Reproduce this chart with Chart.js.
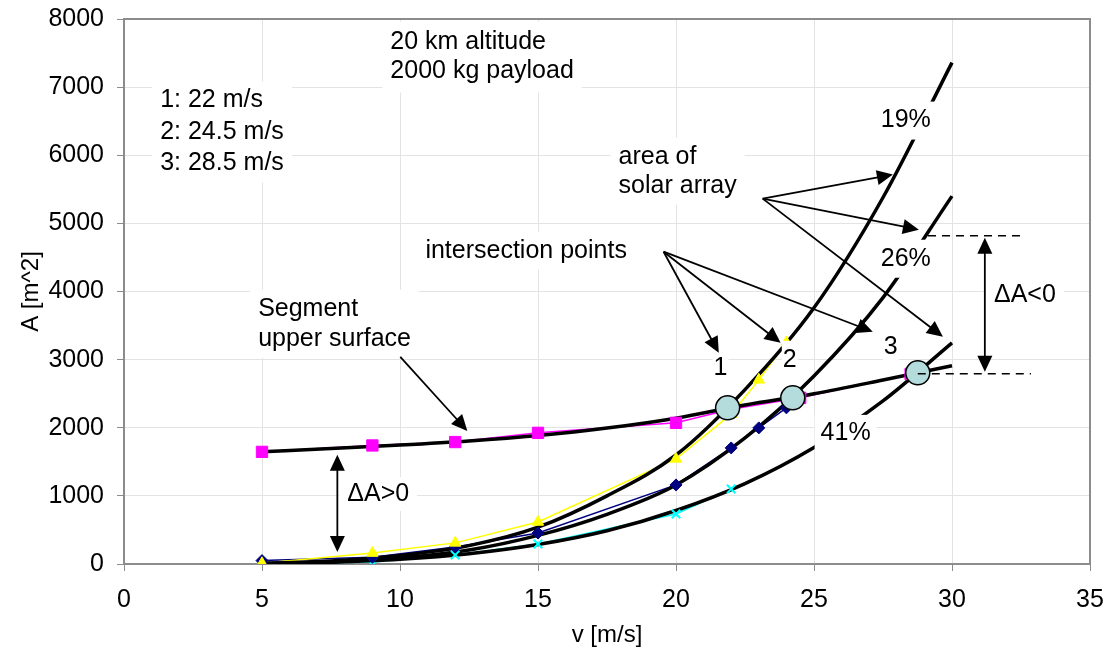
<!DOCTYPE html>
<html>
<head>
<meta charset="utf-8">
<title>A vs v</title>
<script src="https://cdn.jsdelivr.net/npm/chart.js@4.4.1/dist/chart.umd.min.js"></script>
<style>
  body { margin: 0; background: #fff; }
  #wrap { width: 1109px; height: 650px; }
</style>
</head>
<body>
<div id="wrap"><canvas id="myChart" width="1109" height="650"></canvas></div>
<script>
// smoothed curves, sampled every 2.5 m/s
var vFit = [5, 7.5, 10, 12.5, 15, 17.5, 20, 22.5, 25, 27.5, 30];
var segFit = [1646, 1695, 1745, 1805, 1885, 1995, 2140, 2335, 2500, 2700, 2910];
var fit19 = [10, 44, 125, 270, 540, 1000, 1600, 2560, 3760, 5380, 7360];
var fit26 = [7, 30, 90, 205, 420, 730, 1160, 1850, 2760, 3910, 5400];
var fit41 = [6, 25, 68, 150, 285, 487, 785, 1180, 1710, 2395, 3247];

// computed points
var vSeg = [5, 9, 12, 15, 20, 22, 24.5, 28.5];
var segA = [1646, 1740, 1790, 1925, 2072, 2270, 2440, 2790];
var v19 = [5, 9, 12, 15, 20, 22, 23, 24];
var a19 = [10, 160, 310, 617, 1543, 2200, 2703, 3250];
var v26 = [5, 9, 12, 15, 20, 22, 23, 24];
var a26 = [50, 100, 250, 455, 1161, 1704, 1998, 2292];
var v41 = [5, 9, 12, 15, 20, 22];
var a41 = [0, 30, 132, 294, 735, 1102];

// intersection points
var vCross = [21.87, 24.23, 28.76];
var aCross = [2292, 2439, 2806];

// text boxes (left edge in v, first line centre in A)
var noteLines = [
  ["20 km altitude", "2000 kg payload"],
  ["1: 22 m/s", "2: 24.5 m/s", "3: 28.5 m/s"],
  ["area of", "solar array"],
  ["intersection points"],
  ["Segment", "upper surface"],
  ["19%"], ["26%"], ["41%"],
  ["\u0394A<0"], ["\u0394A>0"],
  ["1"], ["2"], ["3"]
];
var noteV = [9.65, 1.31, 17.92, 10.92, 4.86, 27.42, 27.42, 25.24, 31.52, 8.09, 21.36, 23.87, 27.53];
var noteA = [7655, 6803, 5980, 4600, 3747, 6509, 4481, 1925, 3952, 1029, 2880, 2997, 3188];
var noteGap = [29, 31.5, 29, 0, 30, 0, 0, 0, 0, 0, 0, 0, 0];
var notePadX = [8, 8, 8, 8, 8, 6, 6, 6, 8, 8, 1, 1, 1];
var notePadY = [6, 4, 4, 4, 4, 4, 4, 3, 2, 2, 2, 4, 2];

// pointer arrows
var arrowV0 = [10.01, 19.55, 19.55, 19.55, 23.14, 23.14, 23.14];
var arrowA0 = [3041, 4584, 4584, 4584, 5363, 5363, 5363];
var arrowV1 = [12.44, 21.55, 23.79, 27.13, 27.86, 28.80, 29.67];
var arrowA1 = [1954, 3100, 3247, 3409, 5716, 4907, 3335];

// delta A double arrows and dashed guides
var spanV = [31.19, 7.73];
var spanTop = [4790, 1602];
var spanBottom = [2821, 176];
var guideA = [4819, 2792];
var guideV0 = [29.13, 28.76];
var guideV1 = [32.68, 32.86];

var FONT = '"Liberation Sans", Arial, sans-serif';

function toPts(xs, ys) {
  return xs.map(function(x, i) { return { x: x, y: ys[i] }; });
}

function drawArrowHead(ctx, x0, y0, x1, y1) {
  var ang = Math.atan2(y1 - y0, x1 - x0);
  var len = 16, half = 7.5;
  ctx.beginPath();
  ctx.moveTo(x1, y1);
  ctx.lineTo(x1 - len * Math.cos(ang) + half * Math.sin(ang), y1 - len * Math.sin(ang) - half * Math.cos(ang));
  ctx.lineTo(x1 - len * Math.cos(ang) - half * Math.sin(ang), y1 - len * Math.sin(ang) + half * Math.cos(ang));
  ctx.closePath();
  ctx.fill();
}

function drawArrow(ctx, x0, y0, x1, y1, both) {
  var ang = Math.atan2(y1 - y0, x1 - x0);
  var sx = both ? x0 + 14 * Math.cos(ang) : x0;
  var sy = both ? y0 + 14 * Math.sin(ang) : y0;
  ctx.beginPath();
  ctx.moveTo(sx, sy);
  ctx.lineTo(x1 - 14 * Math.cos(ang), y1 - 14 * Math.sin(ang));
  ctx.stroke();
  drawArrowHead(ctx, x0, y0, x1, y1);
  if (both) drawArrowHead(ctx, x1, y1, x0, y0);
}

var notesPlugin = {
  id: "notes",
  beforeDatasetsDraw: function(chart) {
    var ctx = chart.ctx, a = chart.chartArea;
    ctx.save();
    ctx.strokeStyle = "#8c8c8c";
    ctx.lineWidth = 2;
    ctx.strokeRect(a.left, a.top, a.right - a.left, a.bottom - a.top);
    ctx.restore();
  },
  afterDatasetsDraw: function(chart) {
    var ctx = chart.ctx;
    var xs = chart.scales.x, ys = chart.scales.y;
    ctx.save();
    ctx.font = "25px " + FONT;
    ctx.textBaseline = "middle";
    ctx.textAlign = "left";

    // white text boxes with their text
    noteLines.forEach(function(lines, i) {
      var left = xs.getPixelForValue(noteV[i]);
      var top = ys.getPixelForValue(noteA[i]);
      var w = 0;
      lines.forEach(function(l) { w = Math.max(w, ctx.measureText(l).width); });
      var h = (lines.length - 1) * noteGap[i];
      ctx.fillStyle = "#fff";
      ctx.fillRect(left - notePadX[i], top - 15 - notePadY[i], w + 2 * notePadX[i], h + 30 + 2 * notePadY[i]);
      ctx.fillStyle = "#000";
      lines.forEach(function(l, k) { ctx.fillText(l, left, top + k * noteGap[i]); });
    });

    ctx.strokeStyle = "#000";
    ctx.fillStyle = "#000";
    ctx.lineWidth = 1.8;
    for (var i = 0; i < arrowV0.length; i++) {
      drawArrow(ctx,
        xs.getPixelForValue(arrowV0[i]), ys.getPixelForValue(arrowA0[i]),
        xs.getPixelForValue(arrowV1[i]), ys.getPixelForValue(arrowA1[i]), false);
    }
    for (var j = 0; j < spanV.length; j++) {
      var px = xs.getPixelForValue(spanV[j]);
      drawArrow(ctx, px, ys.getPixelForValue(spanTop[j]), px, ys.getPixelForValue(spanBottom[j]), true);
    }

    // dashed guides for delta A < 0
    ctx.lineWidth = 1.5;
    ctx.setLineDash([8, 6]);
    for (var k = 0; k < guideA.length; k++) {
      var py = ys.getPixelForValue(guideA[k]);
      ctx.beginPath();
      ctx.moveTo(xs.getPixelForValue(guideV0[k]), py);
      ctx.lineTo(xs.getPixelForValue(guideV1[k]), py);
      ctx.stroke();
    }
    ctx.restore();
  }
};

function lineSet(xs, ys, color) {
  return {
    data: toPts(xs, ys), showLine: true, borderColor: color, borderWidth: 1.5,
    pointRadius: 0, tension: 0, order: 4
  };
}

function markSet(xs, ys, color, style, r) {
  return {
    data: toPts(xs, ys), showLine: false, pointStyle: style, pointRadius: r,
    backgroundColor: color, borderColor: color, borderWidth: style === "crossRot" ? 2 : 1, order: 1
  };
}

function fitSet(ys) {
  return {
    data: toPts(vFit, ys), showLine: true, borderColor: "#000", borderWidth: 3.5,
    pointRadius: 0, cubicInterpolationMode: "monotone", order: 2
  };
}

Chart.defaults.font.family = FONT;
Chart.defaults.color = "#000";

var ctx = document.getElementById("myChart");
var myChart = new Chart(ctx, {
  type: "scatter",
  data: {
    datasets: [
      {
        data: toPts(vCross, aCross), pointRadius: 12, pointStyle: "circle",
        backgroundColor: "#b5dcdd", borderColor: "#000", borderWidth: 1.5, order: 0
      },
      markSet(vSeg, segA, "#ff00ff", "rect", 8),
      markSet(v19, a19, "#ffff00", "triangle", 6.5),
      markSet(v26, a26, "#000080", "rectRot", 6),
      markSet(v41, a41, "#00ffff", "crossRot", 6),
      fitSet(segFit),
      fitSet(fit19),
      fitSet(fit26),
      fitSet(fit41),
      lineSet(vSeg, segA, "#ff00ff"),
      lineSet(v19, a19, "#ffff00"),
      lineSet(v26, a26, "#000080"),
      lineSet(v41, a41, "#00ffff")
    ]
  },
  options: {
    responsive: false,
    devicePixelRatio: 1,
    animation: false,
    layout: { padding: { top: 19, right: 19, left: 0, bottom: 0 } },
    plugins: { legend: { display: false }, tooltip: { enabled: false } },
    scales: {
      x: {
        type: "linear", min: 0, max: 35,
        ticks: { stepSize: 5, font: { size: 25 }, padding: 14, maxRotation: 0 },
        grid: { color: "#e3e3e3", tickColor: "#8c8c8c", tickLength: 7 },
        border: { display: false },
        title: { display: true, text: "v [m/s]", font: { size: 24 }, padding: { top: 0, bottom: 0 } },
        afterFit: function(scale) {
          scale.height = 86;
          scale.paddingLeft = 0;
          scale.paddingRight = 0;
        }
      },
      y: {
        min: 0, max: 8000,
        ticks: {
          stepSize: 1000, font: { size: 25 }, padding: 13,
          callback: function(value) { return String(value); }
        },
        grid: { color: "#e3e3e3", tickColor: "#8c8c8c", tickLength: 7 },
        border: { display: false },
        title: { display: true, text: "A [m^2]", font: { size: 24 }, padding: { top: 17, bottom: 0 } },
        afterFit: function(scale) {
          scale.width = 124;
          scale.paddingTop = 0;
          scale.paddingBottom = 0;
        }
      }
    }
  },
  plugins: [notesPlugin]
});
</script>
</body>
</html>
